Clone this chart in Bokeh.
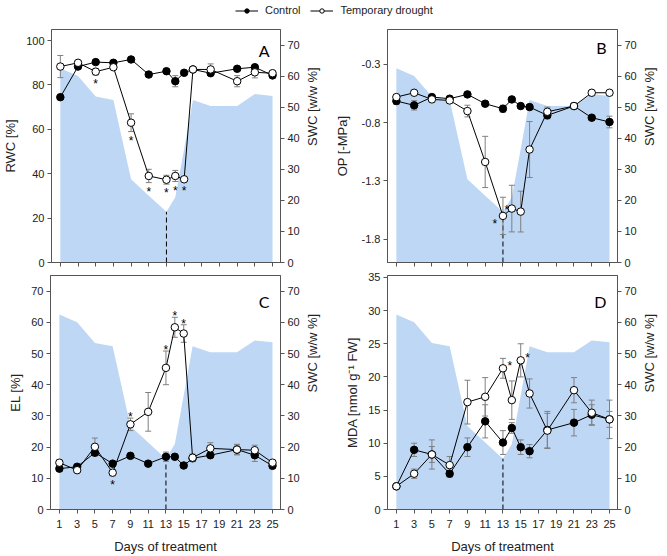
import math
from bokeh.plotting import figure
from bokeh.models import (Range1d, LinearAxis, FixedTicker, Label, Legend, LegendItem,
                          PrintfTickFormatter)
from bokeh.layouts import column, row
from bokeh.embed import file_html
from bokeh.resources import INLINE
from bokeh.core.properties import value

# ---------------- data ----------------
days = [1, 3, 5, 7, 9, 11, 13, 14, 15, 16, 18, 21, 23, 25]
swc = [62.5, 60.0, 53.4, 52.3, 26.8, 21.5, 16.3, 21.0, 36.5, 52.3, 50.4, 50.4, 54.2, 53.6]
drought_end_day = 13

rwc_ctrl = [74.5, 88.3, 90.3, 90.0, 91.5, 84.7, 86.2, 81.7, 85.5, 87.0, 85.3, 87.3, 88.0, 84.3]
rwc_ctrl_err = [1, 1, 1, 1, 1, 1, 1, 2.5, 1, 1, 1, 1, 1, 1]
rwc_dr = [88.3, 90.0, 86.0, 88.0, 63.0, 39.0, 37.3, 39.0, 37.5, 87.0, 87.0, 81.7, 85.7, 85.3]
rwc_dr_err = [5, 1, 1.5, 1, 4, 3, 2, 2.5, 1, 1, 2.5, 2.5, 2.5, 1]

op_ctrl = [-0.614, -0.651, -0.58, -0.594, -0.557, -0.637, -0.68, -0.60, -0.657, -0.666, -0.737, -0.657, -0.757, -0.794]
op_ctrl_err = [0.03, 0.04, 0.02, 0.02, 0.02, 0.02, 0.03, 0.02, 0.02, 0.02, 0.03, 0.02, 0.02, 0.05]
op_dr = [-0.58, -0.543, -0.60, -0.609, -0.70, -1.137, -1.60, -1.537, -1.563, -1.03, -0.706, -0.657, -0.543, -0.543]
op_dr_err = [0.02, 0.02, 0.02, 0.02, 0.05, 0.22, 0.16, 0.20, 0.175, 0.24, 0.04, 0.02, 0.02, 0.02]

el_ctrl = [13.1, 13.7, 18.2, 14.7, 17.2, 14.7, 16.9, 16.9, 14.1, 16.4, 17.4, 19.2, 17.4, 14.0]
el_ctrl_err = [0.8, 0.8, 1.0, 0.8, 0.8, 0.8, 1.5, 0.8, 0.8, 0.8, 0.8, 1.5, 2.0, 0.8]
el_dr = [15.0, 12.6, 20.1, 11.8, 27.3, 31.3, 45.4, 58.4, 56.4, 16.6, 19.6, 19.2, 19.0, 15.0]
el_dr_err = [0.8, 0.8, 2.8, 1.0, 2.0, 6.2, 5.4, 3.2, 2.8, 1.2, 1.8, 1.7, 1.6, 0.8]

mda_ctrl = [3.5, 9.0, 8.3, 5.4, 9.4, 13.3, 10.1, 12.3, 9.4, 8.8, 12.0, 13.1, 14.3, 13.6]
mda_ctrl_err = [0.3, 1.0, 2.2, 0.5, 1.4, 2.5, 1.8, 0.8, 1.1, 1.0, 2.8, 2.0, 1.5, 2.9]
mda_dr = [3.5, 5.4, 8.3, 6.7, 16.2, 17.0, 21.3, 16.5, 22.5, 17.5, 11.9, 18.0, 14.6, 13.6]
mda_dr_err = [0.3, 0.7, 1.2, 1.3, 3.3, 2.9, 1.5, 2.9, 2.5, 2.2, 2.6, 1.9, 1.9, 1.2]

# significance stars (days), by placement relative to drought point
stars_a = {"below": [5, 9, 11, 13, 14, 15]}
stars_b = {"left": [13], "upleft": [14]}
stars_c = {"below": [7], "above": [9, 13, 14, 15]}
stars_d = {"right": [13, 15]}

x_ticks = [1, 3, 5, 7, 9, 11, 13, 15, 17, 19, 21, 23, 25]
swc_ticks = [0, 10, 20, 30, 40, 50, 60, 70]
rwc_ticks = [0, 20, 40, 60, 80, 100]
op_ticks = [-1.8, -1.3, -0.8, -0.3]
el_ticks = [0, 10, 20, 30, 40, 50, 60, 70]
mda_ticks = [0, 5, 10, 15, 20, 25, 30, 35]

series_names = ["Control", "Temporary drought"]

# ---------------- style ----------------
FONT = "Liberation Sans"
AXC = "#555555"
TXT = "#222222"
AREA = "#bdd7f5"
ERR = "#808080"
X_END = 25.9


def style_axis(ax, ticks):
    ax.ticker = FixedTicker(ticks=ticks)
    ax.axis_line_color = AXC
    ax.major_tick_line_color = AXC
    ax.minor_tick_line_color = None
    ax.major_tick_in = 0
    ax.major_tick_out = 4
    ax.major_label_text_font = FONT
    ax.major_label_text_font_size = "11px"
    ax.major_label_text_color = TXT
    ax.major_label_standoff = 3
    ax.axis_label_text_font = FONT
    ax.axis_label_text_font_size = "13px"
    ax.axis_label_text_font_style = "normal"
    ax.axis_label_text_color = TXT


def panel(ylabel, yr, yticks, yfmt, ctrl, ctrl_err, dr, dr_err, letter, letter_dy,
          stars, bottom, width, height, borders, ylab_standoff=5):
    left, right, top, bot = borders
    p = figure(width=width, height=height, output_backend="svg", toolbar_location=None,
               x_range=Range1d(0, X_END), y_range=Range1d(*yr),
               min_border_left=left, min_border_right=right,
               min_border_top=top, min_border_bottom=bot)
    p.extra_y_ranges = {"swc": Range1d(0, 75)}
    p.grid.visible = False
    p.outline_line_color = AXC
    p.background_fill_color = "white"
    p.border_fill_color = "white"

    xa = p.xaxis[0]
    style_axis(xa, x_ticks)
    if bottom:
        xa.axis_label = "Days of treatment"
        xa.major_label_standoff = 6
        xa.axis_label_standoff = 8
    else:
        xa.major_label_overrides = {t: "" for t in x_ticks}
        xa.major_label_text_font_size = "1px"
        xa.major_label_standoff = 0

    ya = p.yaxis[0]
    style_axis(ya, yticks)
    ya.axis_label = ylabel
    ya.axis_label_standoff = ylab_standoff
    if yfmt:
        ya.formatter = PrintfTickFormatter(format=yfmt)

    ra = LinearAxis(y_range_name="swc", axis_label="SWC [w/w %]")
    style_axis(ra, swc_ticks)
    ra.axis_label_standoff = 10
    try:
        ra.axis_label_orientation = math.pi / 2
    except Exception:
        pass
    p.add_layout(ra, "right")

    # soil water content area
    p.varea(x=days, y1=0, y2=swc, y_range_name="swc", fill_color=AREA)
    idx = days.index(drought_end_day)
    p.segment(x0=[drought_end_day], y0=[0], x1=[drought_end_day], y1=[swc[idx]],
              y_range_name="swc", line_color="black", line_width=1, line_dash="5 3")

    # error bars
    for v, e in ((ctrl, ctrl_err), (dr, dr_err)):
        lo = [a - b for a, b in zip(v, e)]
        hi = [a + b for a, b in zip(v, e)]
        p.segment(x0=days, y0=lo, x1=days, y1=hi, line_color=ERR, line_width=1)
        p.scatter(x=days + days, y=lo + hi, marker="dash", size=6, line_color=ERR, line_width=1)

    p.line(days, ctrl, line_color="black", line_width=1)
    p.scatter(days, ctrl, size=7.5, fill_color="black", line_color="black")
    p.line(days, dr, line_color="black", line_width=1)
    p.scatter(days, dr, size=7.5, fill_color="white", line_color="black", line_width=1)

    offs = {"below": (0, 9), "above": (0, -1), "left": (-8, 8), "upleft": (-5, 1),
            "right": (7, -2)}
    for kind, sdays in stars.items():
        xs, ys = [], []
        for d in sdays:
            i = days.index(d)
            if kind == "below":
                y = dr[i] - dr_err[i]
            elif kind == "above":
                y = dr[i] + dr_err[i]
            else:
                y = dr[i]
            xs.append(d)
            ys.append(y)
        dx, dy = offs[kind]
        p.text(x=xs, y=ys, text=["*"] * len(xs), text_font=value(FONT),
               text_font_size="12px", text_align="center", text_baseline="middle",
               text_color="black", x_offset=dx, y_offset=dy)

    p.add_layout(Label(x=X_END, y=yr[1], x_offset=-11, y_offset=-letter_dy, text=letter,
                       text_align="right", text_baseline="top", text_font="Lato",
                       text_font_size="16px", text_color="black"))
    return p


pA = panel("RWC [%]", (0, 105), rwc_ticks, None, rwc_ctrl, rwc_ctrl_err, rwc_dr, rwc_dr_err,
           "A", 11, stars_a, False, 330, 242, (50, 47, 3, 6))
pB = panel("OP [-MPa]", (-2.0, 0.0), op_ticks, "%.1f", op_ctrl, op_ctrl_err, op_dr, op_dr_err,
           "B", 8, stars_b, False, 337, 242, (57, 45, 3, 6), ylab_standoff=9)
pC = panel("EL [%]", (0, 75), el_ticks, None, el_ctrl, el_ctrl_err, el_dr, el_dr_err,
           "C", 16, stars_c, True, 330, 288, (50, 47, 7, 47))
pD = panel("MDA [nmol g\u207b\u00b9 FW]", (0, 35.3), mda_ticks, None, mda_ctrl, mda_ctrl_err,
           mda_dr, mda_dr_err, "D", 16, stars_d, True, 337, 288, (57, 45, 7, 47))

# legend strip (proxy renderers kept outside the strip's visible range)
lf = figure(width=667, height=26, output_backend="svg", toolbar_location=None,
            x_range=Range1d(100, 101), y_range=Range1d(100, 101),
            x_axis_location=None, y_axis_location=None,
            min_border_left=0, min_border_right=0, min_border_top=0, min_border_bottom=0)
lf.grid.visible = False
lf.outline_line_color = None
l1 = lf.line(x=days[:2], y=rwc_ctrl[:2], line_color="black", line_width=1)
s1 = lf.scatter(x=days[:1], y=rwc_ctrl[:1], size=7.5, fill_color="black", line_color="black")
l2 = lf.line(x=days[:2], y=rwc_dr[:2], line_color="black", line_width=1)
s2 = lf.scatter(x=days[:1], y=rwc_dr[:1], size=7.5, fill_color="white", line_color="black")
leg = Legend(items=[LegendItem(label=series_names[0], renderers=[l1, s1]),
                    LegendItem(label=series_names[1], renderers=[l2, s2])],
             orientation="horizontal", location=(235, 10), padding=0, margin=0,
             spacing=10, glyph_width=23, glyph_height=11, label_height=11,
             label_standoff=7, border_line_color=None, background_fill_alpha=0,
             label_text_font=FONT, label_text_font_size="11px", label_text_color=TXT)
lf.add_layout(leg)

layout = column(lf, row(pA, pB), row(pC, pD))
open("out.html", "w").write(file_html(layout, INLINE))
